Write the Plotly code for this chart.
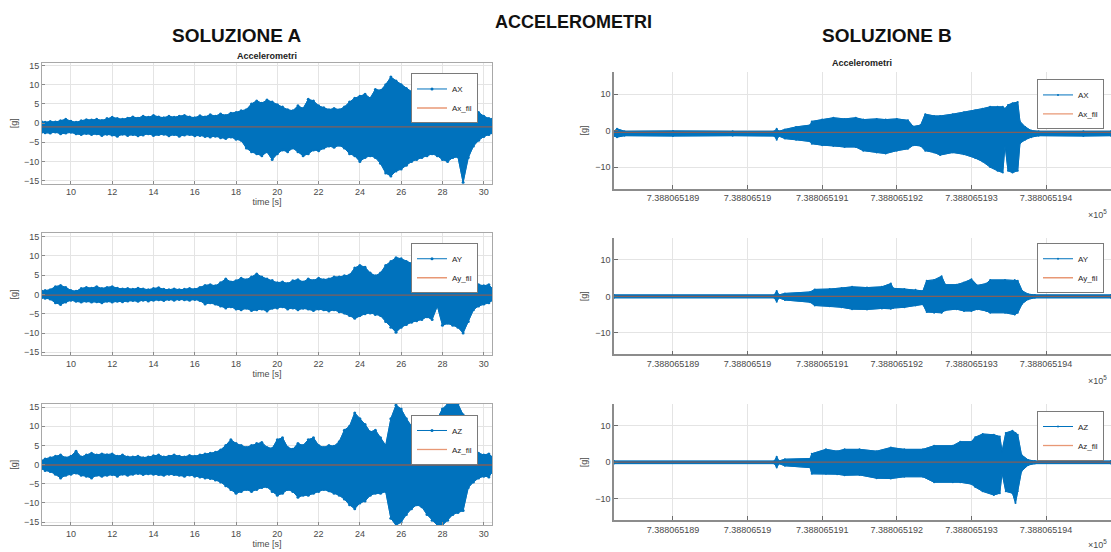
import numpy as np
import plotly.graph_objects as go

# ---------------- DATA ----------------
# SOLUZIONE A : time [s], envelope (max / min) of the accelerometer signals
t_A = np.concatenate([[8.6], np.arange(8.75, 30.26, 0.25), [30.4]])

ax_a_up = [0.3, 0.2,
           0.4, 0.3, 0.6, 1.0,   0.5, 0.2, 0.6, 0.9,   0.8, 1.0, 0.7, 1.2,
           1.5, 1.2, 1.0, 1.3,   1.6, 1.3, 1.8, 1.5,   2.0, 1.6, 1.4, 1.8,
           1.5, 1.8, 2.0, 1.6,   1.4, 1.9, 1.6, 2.2,   1.8, 2.4, 2.0, 2.6,
           2.8, 3.2, 3.5, 5.0,   5.8, 5.2, 6.0, 5.5,   4.8, 4.2, 3.5, 3.2,
           4.5, 3.8, 6.2, 5.8,   4.5, 4.0, 3.5, 3.8,   3.5, 4.2, 5.5, 6.5,
           7.0, 7.5, 6.5, 8.8,   8.5, 10.0, 12.0, 11.0, 10.0, 9.0, 8.2, 7.5,
           7.0, 6.8, 6.0, 6.2,   8.5, 9.0, 8.0, 7.8,   6.5, 5.5, 3.5, 2.8,
           1.8, 1.2, 1.0]
ax_a_lo = [-2.3, -2.5,
           -2.6, -2.3, -2.8, -2.6,   -2.4, -2.8, -3.0, -2.7,   -3.0, -2.8, -3.2, -2.9,
           -3.1, -3.4, -2.9, -3.2,   -3.0, -3.3, -3.1, -2.8,   -3.2, -3.0, -2.9, -3.3,
           -3.0, -3.4, -3.1, -3.0,   -3.3, -3.2, -3.5, -3.6,   -3.4, -3.8, -4.0, -3.6,
           -4.2, -4.5, -6.5, -7.5,   -8.0, -8.5, -7.5, -9.5,   -8.0, -7.0, -7.5, -6.5,
           -7.5, -8.5, -8.0, -7.0,   -7.2, -6.5, -6.0, -6.3,   -5.8, -6.5, -8.0, -8.5,
           -10.0, -9.0, -8.5, -9.0,  -10.5, -13.0, -13.8, -12.5, -12.0, -11.0, -10.0, -9.5,
           -9.0, -8.5, -8.0, -8.5,   -9.5, -10.0, -9.0, -8.8,  -15.5, -9.0, -6.0, -4.5,
           -3.5, -3.0, -2.5]

ay_a_up = [0.8, 1.0,
           1.2, 2.0, 2.3, 1.8,   1.0, 0.8, 1.5, 1.8,   1.6, 2.0, 1.5, 1.8,
           2.0, 1.6, 1.4, 1.5,   1.3, 1.6, 1.4, 1.2,   1.5, 1.7, 1.3, 1.2,
           1.4, 1.2, 1.3, 1.5,   1.3, 1.8, 2.3, 2.5,   2.2, 3.0, 4.0, 3.2,
           3.5, 4.2, 3.8, 4.5,   5.3, 4.5, 4.0, 3.6,   3.0, 3.2, 2.8, 3.5,
           3.8, 3.2, 4.0, 3.6,   4.2, 3.8, 4.0, 4.5,   4.5, 4.8, 5.0, 6.8,
           7.5, 7.0, 5.5, 4.8,   5.5, 7.5, 8.5, 9.5,   9.2, 8.5, 8.0, 7.0,
           6.5, 6.0, 5.5, 2.5,   7.0, 6.5, 7.0, 6.8,   7.2, 6.5, 3.5, 2.5,
           2.2, 2.5, 1.5]
ay_a_lo = [-0.8, -1.0,
           -1.2, -2.2, -2.6, -2.0,   -1.5, -1.8, -2.0, -1.8,   -2.0, -1.9, -2.2, -1.8,
           -2.0, -1.8, -1.9, -1.7,   -1.6, -1.8, -1.5, -1.7,   -1.5, -1.4, -1.6, -1.3,
           -1.5, -1.3, -1.4, -1.5,   -1.3, -1.6, -2.5, -2.2,   -2.5, -3.0, -3.5, -3.2,
           -3.8, -4.0, -3.6, -4.2,   -4.0, -3.8, -4.3, -3.6,   -3.5, -3.2, -3.8, -3.5,
           -4.0, -3.6, -3.8, -4.2,   -3.8, -4.0, -4.3, -4.0,   -4.5, -4.8, -5.5, -6.2,
           -5.5, -5.0, -4.8, -5.2,   -5.5, -7.0, -8.5, -9.8,   -8.5, -7.8, -7.2, -6.8,
           -6.5, -5.8, -6.5, -3.0,   -8.0, -7.5, -8.0, -8.5,  -10.0, -7.0, -4.0, -3.0,
           -2.5, -2.2, -1.5]

az_a_up = [1.0, 1.5,
           1.8, 2.2, 2.5, 1.8,   2.2, 3.5, 2.0, 2.5,   3.0, 2.5, 2.8, 2.6,
           2.8, 2.2, 2.5, 2.0,   2.0, 2.2, 1.8, 2.0,   2.3, 2.5, 2.0, 2.2,
           2.5, 2.2, 2.0, 2.4,   2.2, 2.5, 2.8, 3.0,   3.2, 3.8, 5.0, 6.5,
           5.5, 5.0, 4.5, 5.0,   5.5, 5.8, 4.5, 4.2,   6.5, 7.0, 4.5, 4.0,
           5.5, 5.0, 6.5, 7.0,   5.0, 4.5, 5.0, 4.8,   6.0, 9.0, 10.0, 13.5,
           12.0, 10.5, 8.5, 9.0,  7.0, 5.0, 12.0, 15.5, 14.5, 12.0, 10.0, 8.5,
           8.0, 10.0, 11.0, 12.0, 14.5, 15.8, 15.8, 15.8, 13.0, 6.0, 4.5, 3.0,
           2.5, 2.8, 2.0]
az_a_lo = [-1.0, -1.5,
           -1.8, -2.5, -3.5, -2.8,   -2.5, -2.2, -2.8, -3.0,   -3.5, -2.8, -3.0, -2.8,
           -2.6, -3.0, -2.5, -2.8,   -2.5, -2.3, -2.6, -2.4,   -2.5, -2.6, -2.8, -2.5,
           -2.6, -2.8, -3.0, -2.7,   -3.0, -3.2, -3.5, -3.6,   -4.0, -4.5, -5.5, -6.5,
           -7.5, -7.0, -6.5, -7.0,   -6.5, -6.0, -5.8, -7.0,   -8.0, -7.5, -6.5, -7.0,
           -8.5, -8.0, -8.0, -7.5,   -7.0, -6.5, -6.8, -7.5,   -8.0, -9.0, -10.5, -11.5,
           -10.0, -9.5, -8.0, -7.5,  -7.5, -7.0, -14.0, -15.8, -15.0, -13.0, -11.5, -10.5,
           -11.0, -13.0, -14.5, -15.8, -15.8, -14.5, -13.0, -12.5, -12.0, -6.0, -4.5, -3.5,
           -3.0, -3.2, -2.0]

fil_t_A = [8.6, 15.0, 20.0, 25.0, 30.4]
ax_a_fil = [-1.0, -1.0, -1.0, -1.0, -1.0]
ay_a_fil = [-0.2, -0.2, -0.2, -0.2, -0.2]
az_a_fil = [-0.1, -0.1, -0.1, -0.1, -0.1]

# SOLUZIONE B : time expressed by its last digits (189 -> 7.388065189 x10^5)
t_bx = [188.21, 188.25, 188.35, 189.0, 189.8, 190.36, 190.39, 190.42, 190.5, 190.65,
        190.84, 190.86, 191.0, 191.15, 191.3, 191.45, 191.55, 191.73, 191.85, 192.0,
        192.15, 192.22, 192.32, 192.38, 192.5, 192.58, 192.75, 192.9, 193.05, 193.15,
        193.25, 193.35, 193.42, 193.45, 193.49, 193.55, 193.62, 193.65, 193.72, 193.8,
        193.9, 194.5, 194.87]
ax_b_up = [-0.2, 0.5, -0.2, -0.1, -0.2, -0.2, 0.5, -0.2, 0.3, 1.0,
           1.5, 2.5, 3.0, 3.5, 3.2, 3.5, 3.0, 3.2, 3.0, 3.2,
           2.8, 1.1, 1.5, 4.5, 4.0, 4.0, 4.5, 5.0, 5.5, 6.0,
           6.5, 6.5, 6.5, 6.0, 7.0, 7.5, 7.8, 2.5, 1.0, 0.0,
           -0.2, -0.2, -0.2]
ax_b_lo = [-1.5, -1.8, -1.4, -1.5, -1.4, -1.5, -2.5, -1.5, -2.2, -2.5,
           -3.0, -3.6, -4.0, -4.2, -4.5, -4.5, -5.5, -6.0, -6.3, -5.5,
           -5.0, -4.0, -4.2, -5.5, -6.0, -6.7, -6.0, -6.5, -7.5, -8.5,
           -10.0, -11.0, -11.5, -4.0, -11.0, -11.5, -11.0, -3.5, -2.5, -1.8,
           -1.4, -1.5, -1.4]

t_by = [188.21, 190.36, 190.39, 190.42, 190.5, 190.84, 190.9, 191.1, 191.26, 191.4,
        191.6, 191.8, 191.92, 191.95, 192.1, 192.25, 192.35, 192.4, 192.5, 192.6,
        192.65, 192.8, 192.9, 193.0, 193.08, 193.2, 193.25, 193.45, 193.58, 193.62,
        193.68, 193.76, 193.85, 194.87]
ay_b_up = [0.4, 0.4, 1.5, 0.4, 0.8, 1.2, 1.9, 2.0, 2.3, 2.6,
           2.4, 2.6, 3.5, 2.2, 2.0, 1.8, 1.5, 4.3, 4.5, 5.5,
           3.2, 3.2, 3.8, 4.7, 3.0, 3.5, 4.5, 4.5, 4.5, 4.3,
           1.5, 0.6, 0.4, 0.4]
ay_b_lo = [-0.4, -0.4, -1.5, -0.4, -1.0, -1.6, -2.5, -2.7, -3.0, -3.5,
           -3.6, -3.3, -3.4, -3.2, -3.0, -2.5, -2.2, -4.3, -4.5, -4.5,
           -3.8, -3.5, -4.0, -4.0, -3.5, -4.0, -4.5, -4.5, -5.0, -4.5,
           -2.0, -0.8, -0.4, -0.4]

t_bz = [188.21, 190.36, 190.39, 190.42, 190.5, 190.84, 190.86, 191.05, 191.2, 191.3,
        191.5, 191.73, 191.92, 192.1, 192.35, 192.5, 192.75, 192.85, 193.0, 193.05,
        193.15, 193.3, 193.38, 193.41, 193.46, 193.55, 193.59, 193.62, 193.67, 193.76,
        193.85, 194.87]
az_b_up = [0.3, 0.3, 1.5, 0.3, 0.8, 1.0, 2.3, 3.5, 3.0, 3.5,
           3.5, 3.0, 4.0, 3.5, 3.5, 4.5, 4.5, 5.6, 5.6, 6.8,
           7.7, 7.5, 7.0, 3.0, 8.0, 8.6, 8.0, 7.5, 2.0, 0.6,
           0.3, 0.3]
az_b_lo = [-0.4, -0.4, -1.5, -0.4, -1.0, -1.5, -3.2, -3.2, -3.3, -3.6,
           -3.5, -4.4, -4.5, -4.0, -4.0, -5.5, -5.5, -5.5, -6.0, -6.8,
           -8.0, -9.0, -8.5, -3.0, -8.0, -8.5, -11.2, -8.0, -2.5, -0.8,
           -0.4, -0.4]

fil_t_B = [188.21, 191.0, 193.0, 194.87]
ax_b_fil = [-0.5, -0.5, -0.5, -0.5]
ay_b_fil = [0.0, 0.0, 0.0, 0.0]
az_b_fil = [0.0, 0.0, 0.0, 0.0]

a_ticks = [10, 12, 14, 16, 18, 20, 22, 24, 26, 28, 30]
a_yticks = [-15, -10, -5, 0, 5, 10, 15]
b_ticks = [189, 190, 191, 192, 193, 194]
b_ticktext = ["7.388065189", "7.38806519", "7.388065191",
              "7.388065192", "7.388065193", "7.388065194"]
b_yticks = [-10, 0, 10]

# ---------------- FIGURE ----------------
W, H = 1111, 552
BLUE = "#0072BD"
ORANGE = "#D95319"
FONT = "Liberation Sans, Arial, sans-serif"
TXT = "#4a4a4a"

panels = [
    dict(t=t_A, up=ax_a_up, lo=ax_a_lo, ft=fil_t_A, fv=ax_a_fil, n="AX", fn="Ax_fil", side="A", top=61, bot=183, leg=(478, 72)),
    dict(t=t_A, up=ay_a_up, lo=ay_a_lo, ft=fil_t_A, fv=ay_a_fil, n="AY", fn="Ay_fil", side="A", top=233, bot=356, leg=(478, 243)),
    dict(t=t_A, up=az_a_up, lo=az_a_lo, ft=fil_t_A, fv=az_a_fil, n="AZ", fn="Az_fil", side="A", top=405, bot=527, leg=(478, 416)),
    dict(t=t_bx, up=ax_b_up, lo=ax_b_lo, ft=fil_t_B, fv=ax_b_fil, n="AX", fn="Ax_fil", side="B", top=71, bot=188, leg=(1104, 78)),
    dict(t=t_by, up=ay_b_up, lo=ay_b_lo, ft=fil_t_B, fv=ay_b_fil, n="AY", fn="Ay_fil", side="B", top=238, bot=355, leg=(1104, 243)),
    dict(t=t_bz, up=az_b_up, lo=az_b_lo, ft=fil_t_B, fv=az_b_fil, n="AZ", fn="Az_fil", side="B", top=405, bot=522, leg=(1104, 412)),
]

fig = go.Figure()
layout = {}
for i, p in enumerate(panels, start=1):
    xa = "x" if i == 1 else f"x{i}"
    ya = "y" if i == 1 else f"y{i}"
    lg = "legend" if i == 1 else f"legend{i}"
    t = list(p["t"])
    assert len(t) == len(p["up"]) == len(p["lo"])
    poly_x = t + t[::-1]
    poly_y = list(p["up"]) + list(p["lo"])[::-1]
    msize = 3 if p["side"] == "A" else 2
    fig.add_trace(go.Scatter(x=poly_x, y=poly_y, mode="lines", fill="toself",
                             fillcolor=BLUE, line=dict(color=BLUE, width=0.8),
                             showlegend=False, hoverinfo="skip", xaxis=xa, yaxis=ya))
    fig.add_trace(go.Scatter(x=t, y=p["up"], mode="lines+markers", name=p["n"],
                             line=dict(color=BLUE, width=1), marker=dict(size=msize, color=BLUE),
                             legend=lg, xaxis=xa, yaxis=ya))
    fig.add_trace(go.Scatter(x=t, y=p["lo"], mode="lines+markers", name=p["n"],
                             line=dict(color=BLUE, width=1), marker=dict(size=msize, color=BLUE),
                             showlegend=False, legend=lg, xaxis=xa, yaxis=ya))
    fig.add_trace(go.Scatter(x=p["ft"], y=p["fv"], mode="lines", name=p["fn"],
                             line=dict(color=ORANGE, width=1.3), opacity=0.6,
                             legend=lg, xaxis=xa, yaxis=ya))

    ydom = [1 - p["bot"] / H, 1 - p["top"] / H]
    if p["side"] == "A":
        xdom = [42 / W, 492 / W]
        xaxis = dict(domain=xdom, anchor=ya, range=[8.6, 30.4], tickvals=a_ticks,
                     showgrid=True, gridcolor="#e4e4e4", zeroline=False,
                     showline=True, linecolor="#a8a8a8", mirror=True, linewidth=1,
                     ticks="inside", ticklen=3, tickcolor="#8a8a8a",
                     tickfont=dict(size=9, color=TXT, family=FONT),
                     title=dict(text="time [s]", font=dict(size=9, color=TXT, family=FONT), standoff=2))
        yaxis = dict(domain=ydom, anchor=xa, range=[-15.8, 15.8], tickvals=a_yticks,
                     showgrid=True, gridcolor="#e4e4e4", zeroline=False,
                     showline=True, linecolor="#a8a8a8", mirror=True, linewidth=1,
                     ticks="inside", ticklen=3, tickcolor="#8a8a8a",
                     tickfont=dict(size=9, color=TXT, family=FONT),
                     title=dict(text="[g]", font=dict(size=9, color=TXT, family=FONT), standoff=4))
    else:
        xdom = [614 / W, 1.0]
        xaxis = dict(domain=xdom, anchor=ya, range=[188.21, 194.87], tickvals=b_ticks,
                     ticktext=b_ticktext,
                     showgrid=True, gridcolor="#e4e4e4", zeroline=False,
                     showline=True, linecolor="#8c8c8c", mirror=False, linewidth=1.5,
                     ticks="inside", ticklen=4, tickcolor="#6c6c6c",
                     tickfont=dict(size=9, color=TXT, family=FONT))
        yaxis = dict(domain=ydom, anchor=xa, range=[-15.9, 15.9], tickvals=b_yticks,
                     showgrid=True, gridcolor="#e4e4e4", zeroline=False,
                     showline=True, linecolor="#8c8c8c", mirror=False, linewidth=1.5,
                     ticks="inside", ticklen=4, tickcolor="#6c6c6c",
                     tickfont=dict(size=9, color=TXT, family=FONT),
                     title=dict(text="[g]", font=dict(size=9, color=TXT, family=FONT), standoff=6))
    layout["xaxis" if i == 1 else f"xaxis{i}"] = xaxis
    layout["yaxis" if i == 1 else f"yaxis{i}"] = yaxis
    lx, ly = p["leg"]
    layout[lg] = dict(x=lx / W, y=1 - ly / H, xanchor="right", yanchor="top",
                      bgcolor="white", bordercolor="#7a7a7a", borderwidth=1,
                      font=dict(size=8, color="#262626", family=FONT),
                      tracegroupgap=0, itemwidth=30, traceorder="normal")

annotations = [
    dict(text="<b>ACCELEROMETRI</b>", x=573 / W, y=1 - 20 / H, font=dict(size=18, color="#111", family=FONT)),
    dict(text="<b>SOLUZIONE A</b>", x=236 / W, y=1 - 34 / H, font=dict(size=19, color="#111", family=FONT)),
    dict(text="<b>SOLUZIONE B</b>", x=887 / W, y=1 - 34 / H, font=dict(size=19, color="#111", family=FONT)),
    dict(text="<b>Accelerometri</b>", x=267 / W, y=1 - 54 / H, font=dict(size=9, color="#222", family=FONT)),
    dict(text="<b>Accelerometri</b>", x=862 / W, y=1 - 61 / H, font=dict(size=9, color="#222", family=FONT)),
]
for yy in (214, 381, 546):
    annotations.append(dict(text="\u00d710<sup>5</sup>", x=1097 / W, y=1 - yy / H,
                            font=dict(size=9, color=TXT, family=FONT)))
for a in annotations:
    a.update(xref="paper", yref="paper", showarrow=False, xanchor="center", yanchor="middle")

fig.update_layout(width=W, height=H, margin=dict(l=0, r=0, t=0, b=0),
                  paper_bgcolor="white", plot_bgcolor="white",
                  annotations=annotations, **layout)

fig.write_html("out.html", config={"displayModeBar": False},
               post_script="document.body.style.margin='0px';document.body.style.overflow='hidden';")
